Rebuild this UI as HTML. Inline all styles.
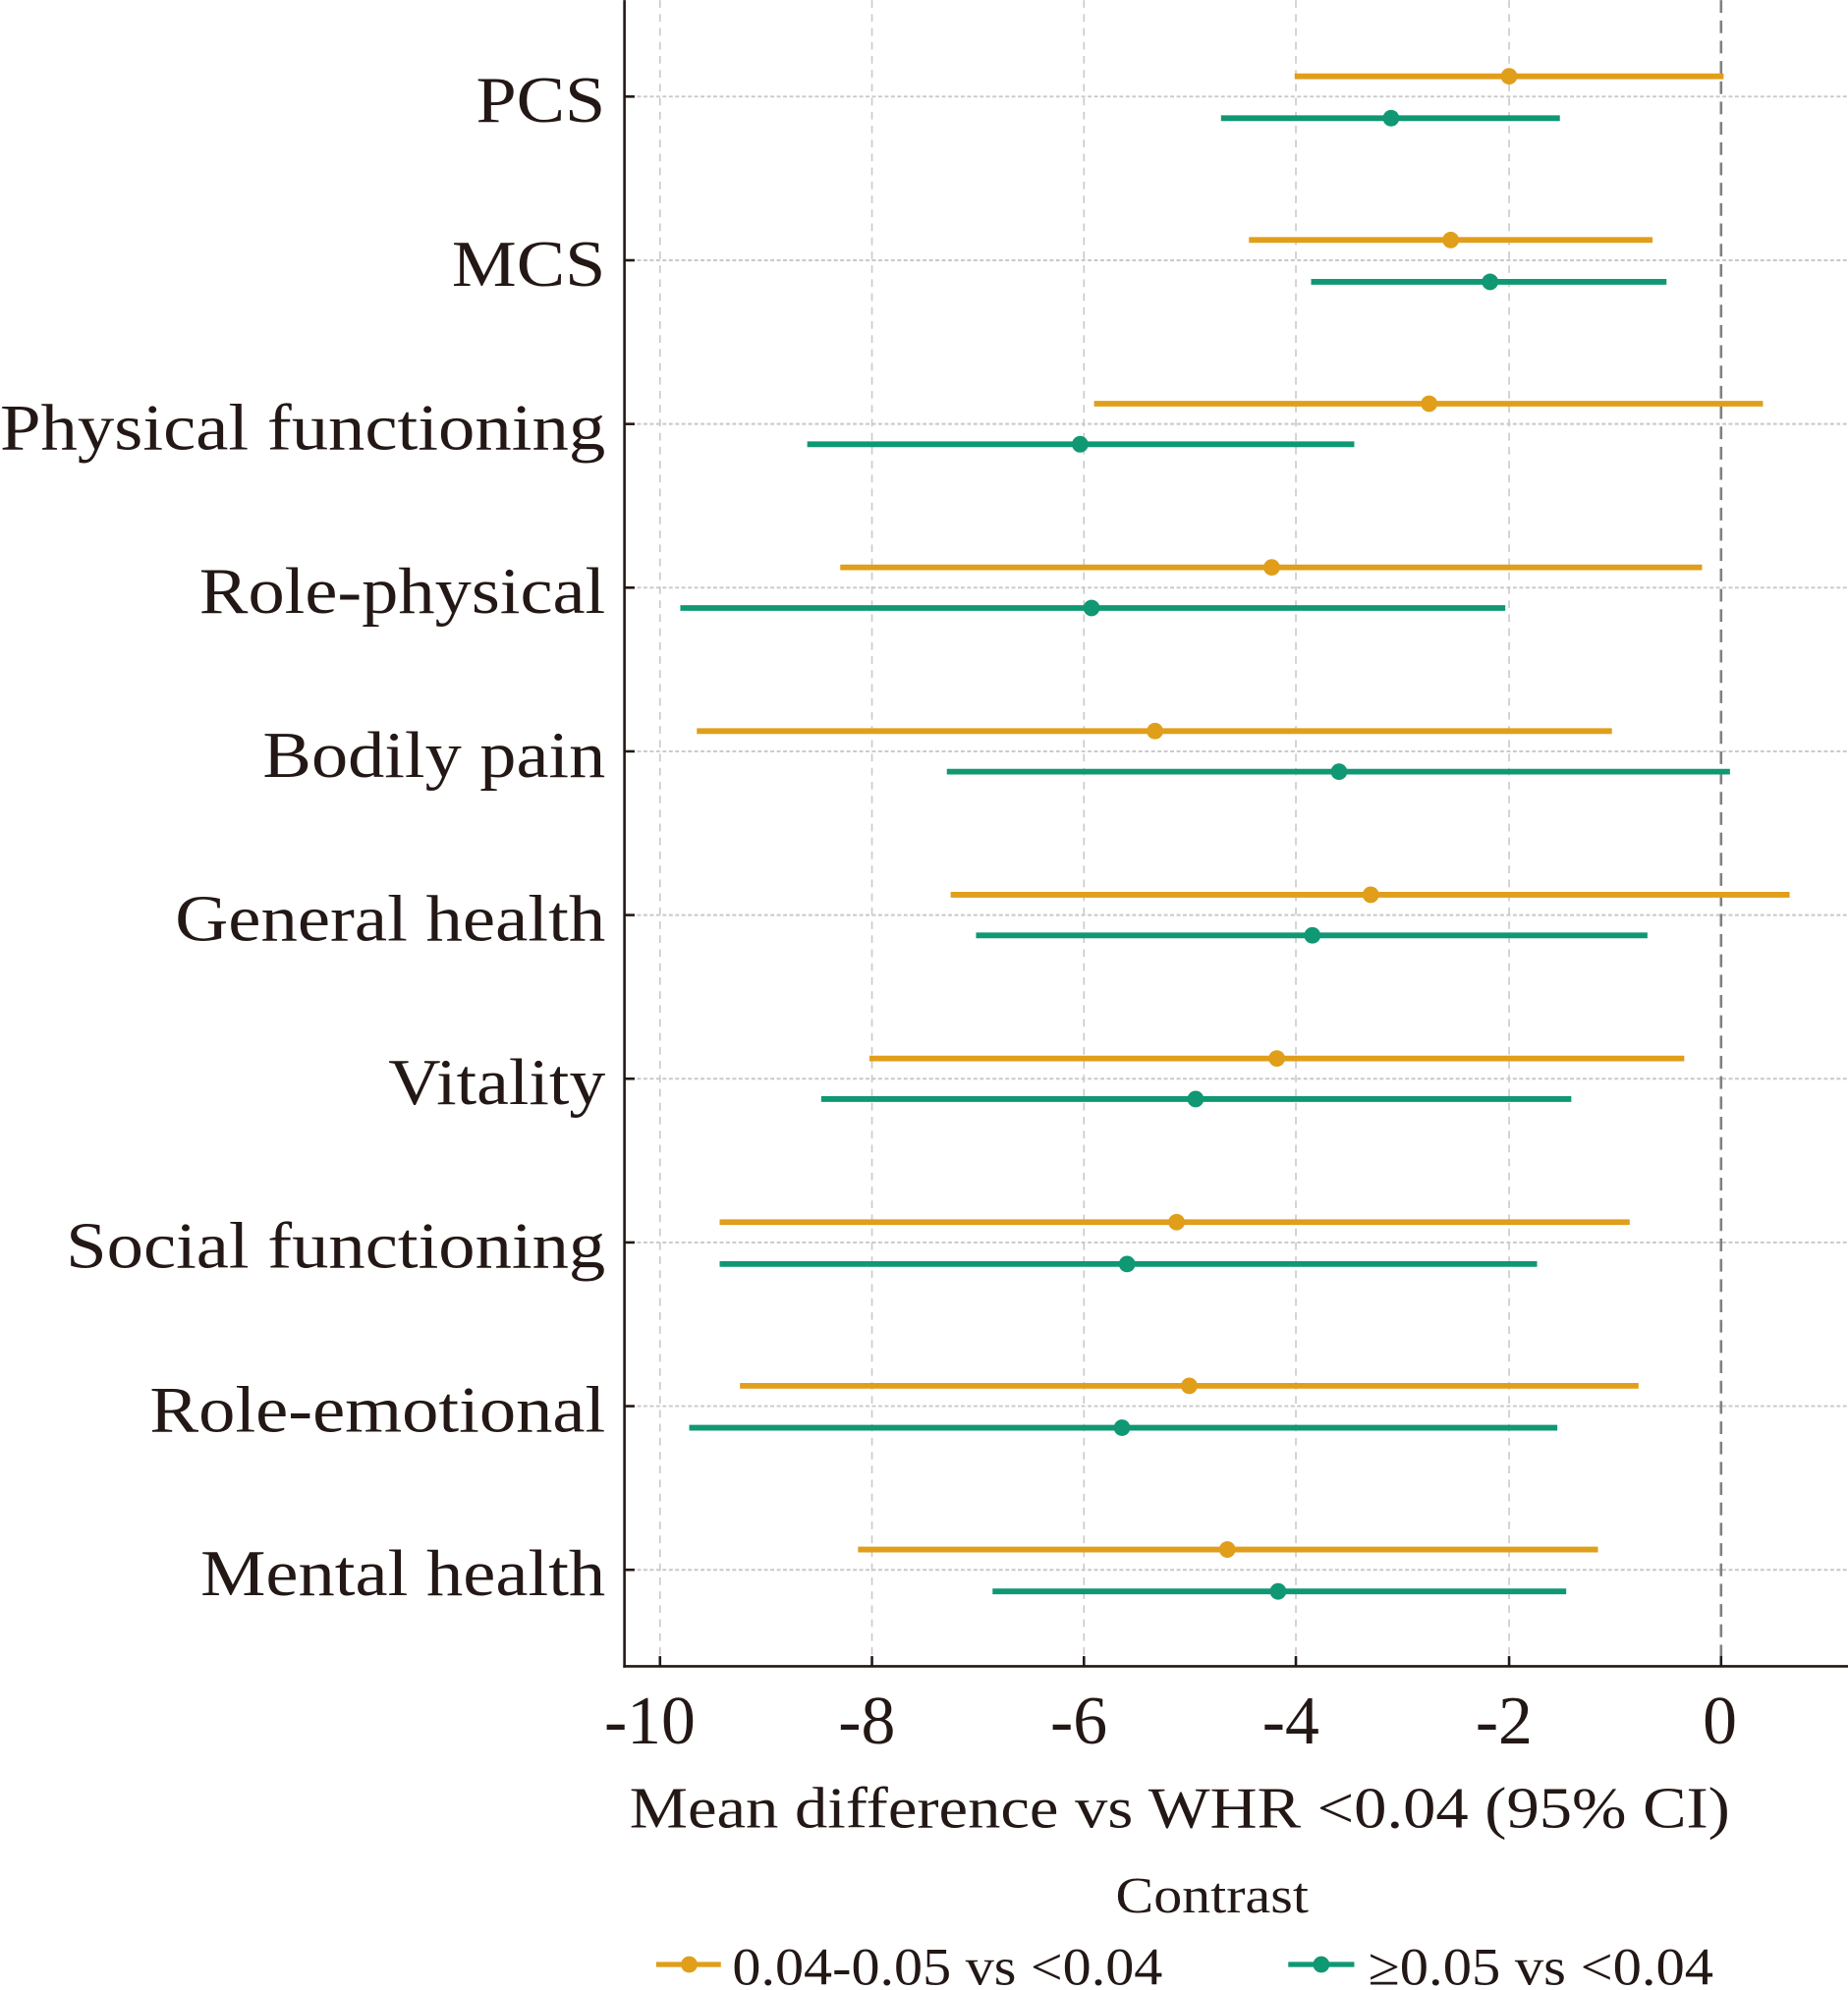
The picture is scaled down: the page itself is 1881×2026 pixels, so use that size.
<!DOCTYPE html>
<html><head><meta charset="utf-8"><style>html,body{margin:0;padding:0;background:#fff}svg{display:block}</style></head>
<body>
<svg width="1881" height="2026" viewBox="0 0 1456 1568" xmlns="http://www.w3.org/2000/svg" font-family="'Liberation Serif', serif" fill="#231815">
<g stroke="#c8c8c8" stroke-width="1.2" stroke-dasharray="6 5">
<line x1="520" y1="0" x2="520" y2="1313"/><line x1="687" y1="0" x2="687" y2="1313"/><line x1="854" y1="0" x2="854" y2="1313"/><line x1="1021" y1="0" x2="1021" y2="1313"/><line x1="1189" y1="0" x2="1189" y2="1313"/>
</g>
<g stroke="#c8c8c8" stroke-width="1.5" stroke-dasharray="3 2">
<line x1="492" y1="76" x2="1456" y2="76"/><line x1="492" y1="205" x2="1456" y2="205"/><line x1="492" y1="334" x2="1456" y2="334"/><line x1="492" y1="463" x2="1456" y2="463"/><line x1="492" y1="592" x2="1456" y2="592"/><line x1="492" y1="721" x2="1456" y2="721"/><line x1="492" y1="850" x2="1456" y2="850"/><line x1="492" y1="979" x2="1456" y2="979"/><line x1="492" y1="1108" x2="1456" y2="1108"/><line x1="492" y1="1237" x2="1456" y2="1237"/>
</g>
<line x1="1356" y1="0" x2="1356" y2="1313" stroke="#808080" stroke-width="2" stroke-dasharray="10 6"/>
<g stroke-width="4.5">
<g stroke="#E09E1A" fill="#E09E1A">
<line x1="1020" y1="60" x2="1358" y2="60"/><circle cx="1189" cy="60" r="6.5" stroke="none"/>
<line x1="984" y1="189" x2="1302" y2="189"/><circle cx="1143" cy="189" r="6.5" stroke="none"/>
<line x1="862" y1="318" x2="1389" y2="318"/><circle cx="1126" cy="318" r="6.5" stroke="none"/>
<line x1="662" y1="447" x2="1341" y2="447"/><circle cx="1002" cy="447" r="6.5" stroke="none"/>
<line x1="549" y1="576" x2="1270" y2="576"/><circle cx="910" cy="576" r="6.5" stroke="none"/>
<line x1="749" y1="705" x2="1410" y2="705"/><circle cx="1080" cy="705" r="6.5" stroke="none"/>
<line x1="685" y1="834" x2="1327" y2="834"/><circle cx="1006" cy="834" r="6.5" stroke="none"/>
<line x1="567" y1="963" x2="1284" y2="963"/><circle cx="927" cy="963" r="6.5" stroke="none"/>
<line x1="583" y1="1092" x2="1291" y2="1092"/><circle cx="937" cy="1092" r="6.5" stroke="none"/>
<line x1="676" y1="1221" x2="1259" y2="1221"/><circle cx="967" cy="1221" r="6.5" stroke="none"/>
</g>
<g stroke="#0F9873" fill="#0F9873">
<line x1="962" y1="93" x2="1229" y2="93"/><circle cx="1096" cy="93" r="6.5" stroke="none"/>
<line x1="1033" y1="222" x2="1313" y2="222"/><circle cx="1174" cy="222" r="6.5" stroke="none"/>
<line x1="636" y1="350" x2="1067" y2="350"/><circle cx="851" cy="350" r="6.5" stroke="none"/>
<line x1="536" y1="479" x2="1186" y2="479"/><circle cx="860" cy="479" r="6.5" stroke="none"/>
<line x1="746" y1="608" x2="1363" y2="608"/><circle cx="1055" cy="608" r="6.5" stroke="none"/>
<line x1="769" y1="737" x2="1298" y2="737"/><circle cx="1034" cy="737" r="6.5" stroke="none"/>
<line x1="647" y1="866" x2="1238" y2="866"/><circle cx="942" cy="866" r="6.5" stroke="none"/>
<line x1="567" y1="996" x2="1211" y2="996"/><circle cx="888" cy="996" r="6.5" stroke="none"/>
<line x1="543" y1="1125" x2="1227" y2="1125"/><circle cx="884" cy="1125" r="6.5" stroke="none"/>
<line x1="782" y1="1254" x2="1234" y2="1254"/><circle cx="1007" cy="1254" r="6.5" stroke="none"/>
</g>
</g>
<g stroke="#231815" stroke-width="2">
<line x1="492" y1="0" x2="492" y2="1314"/><line x1="491" y1="1313" x2="1456" y2="1313"/>
<line x1="492" y1="76" x2="500" y2="76"/><line x1="492" y1="205" x2="500" y2="205"/><line x1="492" y1="334" x2="500" y2="334"/><line x1="492" y1="463" x2="500" y2="463"/><line x1="492" y1="592" x2="500" y2="592"/><line x1="492" y1="721" x2="500" y2="721"/><line x1="492" y1="850" x2="500" y2="850"/><line x1="492" y1="979" x2="500" y2="979"/><line x1="492" y1="1108" x2="500" y2="1108"/><line x1="492" y1="1237" x2="500" y2="1237"/>
<line x1="520" y1="1305" x2="520" y2="1313"/><line x1="687" y1="1305" x2="687" y2="1313"/><line x1="854" y1="1305" x2="854" y2="1313"/><line x1="1021" y1="1305" x2="1021" y2="1313"/><line x1="1189" y1="1305" x2="1189" y2="1313"/><line x1="1356" y1="1305" x2="1356" y2="1313"/>
</g>
<g font-size="52" text-anchor="end">
<text x="477" y="96" textLength="102" lengthAdjust="spacingAndGlyphs">PCS</text>
<text x="477" y="225" textLength="121" lengthAdjust="spacingAndGlyphs">MCS</text>
<text x="477" y="354" textLength="477" lengthAdjust="spacingAndGlyphs">Physical functioning</text>
<text x="477" y="483" textLength="320" lengthAdjust="spacingAndGlyphs">Role-physical</text>
<text x="477" y="612" textLength="270" lengthAdjust="spacingAndGlyphs">Bodily pain</text>
<text x="477" y="741" textLength="339" lengthAdjust="spacingAndGlyphs">General health</text>
<text x="477" y="870" textLength="171" lengthAdjust="spacingAndGlyphs">Vitality</text>
<text x="477" y="999" textLength="425" lengthAdjust="spacingAndGlyphs">Social functioning</text>
<text x="477" y="1128" textLength="359" lengthAdjust="spacingAndGlyphs">Role-emotional</text>
<text x="477" y="1257" textLength="319" lengthAdjust="spacingAndGlyphs">Mental health</text>
</g>
<g font-size="54" text-anchor="middle">
<text x="512" y="1374">-10</text><text x="683" y="1374">-8</text><text x="850" y="1374">-6</text><text x="1017" y="1374">-4</text><text x="1185" y="1374">-2</text><text x="1355" y="1374">0</text>
</g>
<text x="496" y="1440" font-size="46" textLength="867" lengthAdjust="spacingAndGlyphs">Mean difference vs WHR &lt;0.04 (95% CI)</text>
<text x="879" y="1507" font-size="40" textLength="152" lengthAdjust="spacingAndGlyphs">Contrast</text>
<line x1="517" y1="1548" x2="568" y2="1548" stroke="#E09E1A" stroke-width="4"/><circle cx="543" cy="1548" r="6.5" fill="#E09E1A"/>
<text x="577" y="1564" font-size="42" textLength="339" lengthAdjust="spacingAndGlyphs">0.04-0.05 vs &lt;0.04</text>
<line x1="1015" y1="1548" x2="1067" y2="1548" stroke="#0F9873" stroke-width="4"/><circle cx="1041" cy="1548" r="6.5" fill="#0F9873"/>
<text x="1078" y="1564" font-size="42" textLength="272" lengthAdjust="spacingAndGlyphs">≥0.05 vs &lt;0.04</text>
</svg>
</body></html>
